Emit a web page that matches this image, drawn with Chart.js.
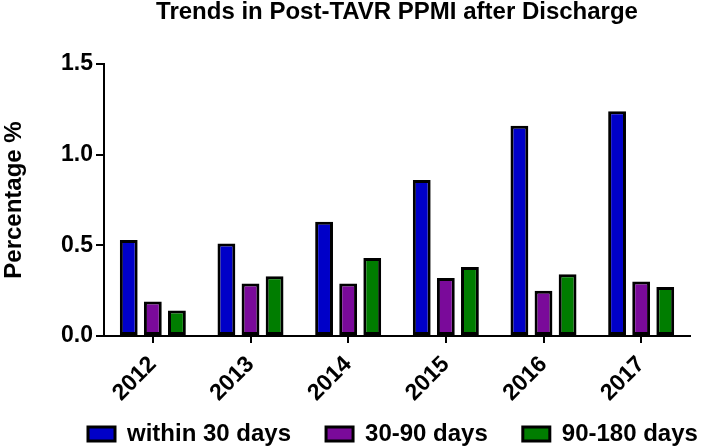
<!DOCTYPE html>
<html>
<head>
<meta charset="utf-8">
<script src="https://cdn.jsdelivr.net/npm/chart.js@4.4.1/dist/chart.umd.min.js"></script>
<style>
  html, body { margin: 0; padding: 0; background: #fff; }
  #wrap { width: 709px; height: 448px; position: relative; }
</style>
</head>
<body>
<div id="wrap"><canvas id="ppmiChart"></canvas></div>
<script>
// chart data
const years = ['2012', '2013', '2014', '2015', '2016', '2017'];
const within30 = [0.53, 0.51, 0.63, 0.86, 1.16, 1.24];
const days30to90 = [0.19, 0.29, 0.29, 0.32, 0.25, 0.30];
const days90to180 = [0.14, 0.33, 0.43, 0.38, 0.34, 0.27];
const yTicks = [0, 0.5, 1.0, 1.5];

const FONT = "'Liberation Sans', Arial, sans-serif";
const titleText = 'Trends in Post-TAVR PPMI after Discharge';

// title centred over the plot area, legend nudged to where GraphPad puts it
const plotTitle = {
    id: 'plotTitle',
    afterLayout(chart) {
        const lg = chart.legend;
        if (lg) {
            const w = lg.right - lg.left;
            lg.left = 53;
            lg.right = lg.left + w;
            lg.top = 387;
            lg.bottom = chart.height;
            lg.height = lg.bottom - lg.top;
        }
    },
    afterDraw(chart) {
        const c = chart.ctx;
        const area = chart.chartArea;
        c.save();
        c.font = 'bold 24px ' + FONT;
        c.fillStyle = '#000';
        c.textAlign = 'center';
        c.textBaseline = 'alphabetic';
        c.fillText(titleText, (area.left + area.right) / 2, 19);
        c.restore();
    }
};

function barSet(label, data, color) {
    return {
        label: label,
        data: data,
        backgroundColor: color,
        borderColor: '#000',
        borderWidth: 3,
        borderSkipped: false,
        barPercentage: 0.74,
        categoryPercentage: 0.74
    };
}

new Chart(document.getElementById('ppmiChart'), {
    type: 'bar',
    data: {
        labels: years,
        datasets: [
            barSet('within 30 days', within30, '#0000C8'),
            barSet('30-90 days', days30to90, '#7A0A9A'),
            barSet('90-180 days', days90to180, '#007D00')
        ]
    },
    options: {
        responsive: true,
        maintainAspectRatio: false,
        animation: false,
        layout: {
            padding: { top: 64, right: 19, bottom: 0, left: 0 }
        },
        plugins: {
            title: { display: false },
            tooltip: { enabled: false },
            legend: {
                position: 'bottom',
                align: 'start',
                maxHeight: 40,
                labels: {
                    color: '#000',
                    font: { family: FONT, size: 24, weight: 'bold' },
                    boxWidth: 27,
                    boxHeight: 14,
                    padding: 35
                }
            }
        },
        scales: {
            y: {
                min: 0,
                max: 1.5,
                afterBuildTicks: function(scale) {
                    scale.ticks = yTicks.map(v => ({ value: v }));
                },
                afterFit: function(scale) {
                    scale.width = 104;
                },
                ticks: {
                    color: '#000',
                    font: { family: FONT, size: 23, weight: 'bold' },
                    padding: 3,
                    callback: function(value) {
                        return Number(value).toFixed(1);
                    }
                },
                grid: {
                    drawOnChartArea: false,
                    drawTicks: true,
                    tickLength: 8,
                    color: '#000',
                    lineWidth: 2
                },
                border: { color: '#000', width: 2 },
                title: {
                    display: true,
                    text: 'Percentage %',
                    color: '#000',
                    font: { family: FONT, size: 24, weight: 'bold' },
                    padding: { top: 0, bottom: 0 }
                }
            },
            x: {
                offset: true,
                afterFit: function(scale) {
                    scale.height = 72;
                },
                ticks: {
                    color: '#000',
                    font: { family: FONT, size: 23, weight: 'bold' },
                    maxRotation: 45,
                    minRotation: 45,
                    padding: 8
                },
                grid: {
                    offset: false,
                    drawOnChartArea: false,
                    drawTicks: true,
                    tickLength: 7,
                    color: '#000',
                    lineWidth: 2
                },
                border: { color: '#000', width: 2 }
            }
        }
    },
    plugins: [plotTitle]
});
</script>
</body>
</html>
